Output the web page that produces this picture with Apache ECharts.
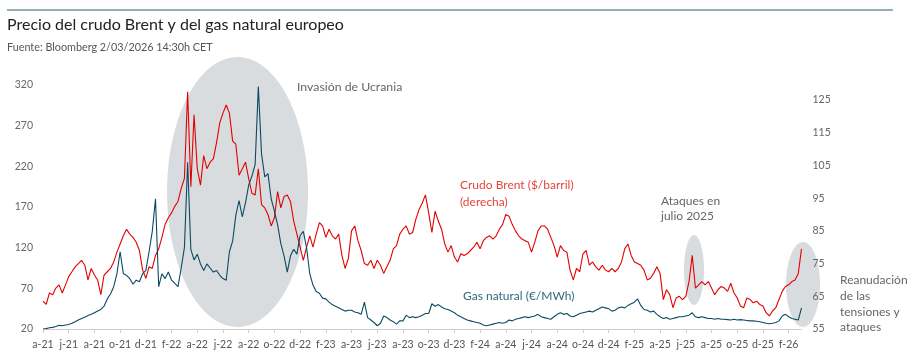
<!DOCTYPE html>
<html><head><meta charset="utf-8">
<script src="https://cdn.jsdelivr.net/npm/echarts@6/dist/echarts.min.js"></script>
<style>html,body{margin:0;padding:0;background:#fff}#c{width:920px;height:357px}</style>
</head><body><div id="c"></div>
<script>
// x-axis tick labels, one every two months starting April 2021
const tickLabels = ['a-21','j-21','a-21','o-21','d-21','f-22','a-22','j-22','a-22','o-22','d-22','f-23','a-23','j-23','a-23','o-23','d-23','f-24','a-24','j-24','a-24','o-24','d-24','f-25','a-25','j-25','a-25','o-25','d-25','f-26'];
// sampling step in months (from 1 Apr 2021)
const STEP = 0.25;
// Brent crude, $/barrel (right axis)
const brent = [
63.5,62.5,66.0,65.5, 67.5,68.5,66.0,68.5, 71.0,72.5,74.0,75.0, 76.0,74.5,70.0,73.5,
71.5,70.0,65.5,71.5, 72.5,73.5,75.5,78.5, 81.0,83.5,85.5,84.0, 83.0,81.5,79.0,73.0,
70.5,74.0,73.5,77.5, 79.5,83.0,87.0,89.0, 90.5,92.5,94.0,98.0, 101.0,127.5,98.5,120.5,
104.0,99.0,108.0,104.0, 106.0,107.0,112.0,118.0, 121.0,123.5,121.0,112.5, 111.5,102.0,104.0,106.0,
101.0,96.5,96.0,104.0, 93.0,92.0,90.0,86.5, 89.0,97.0,92.0,95.5, 96.0,94.0,88.0,84.0,
80.0,76.0,80.0,83.5, 80.0,84.0,87.5,86.5, 83.0,85.5,83.5,82.5, 84.0,77.5,73.5,76.5,
85.0,86.5,82.0,79.0, 75.0,74.5,76.0,73.5, 76.0,74.5,72.0,74.0, 76.0,79.5,80.5,84.0,
85.5,86.5,84.0,84.5, 88.5,91.5,93.5,96.0, 90.5,84.5,91.0,88.0, 85.5,81.0,78.5,80.5,
77.0,75.5,78.0,77.5, 78.0,79.0,80.0,81.5, 79.5,82.0,83.0,83.5, 82.5,83.5,85.5,87.0,
90.0,89.5,87.0,85.0, 83.5,82.5,82.0,81.5, 78.5,81.5,85.0,86.5, 86.5,85.5,83.0,80.5,
77.0,80.5,79.0,78.5, 73.0,70.0,73.5,72.5, 78.0,79.0,74.5,75.5, 74.0,73.0,74.5,73.0,
72.5,73.5,72.5,73.5, 75.5,79.5,81.0,77.5, 75.5,75.0,74.5,73.0, 70.0,70.5,72.0,74.0,
72.0,64.0,67.0,65.5, 61.5,64.5,65.0,64.0, 65.0,69.5,77.5,67.5, 68.5,69.5,68.5,69.5,
67.5,65.5,67.0,68.0, 67.5,66.5,69.0,66.0, 64.5,62.0,61.5,64.5, 64.0,63.0,63.5,62.5,
62.0,60.0,59.0,60.5, 61.5,64.0,66.5,68.0, 68.5,69.5,70.0,72.0, 79.5
];
// TTF natural gas, EUR/MWh (left axis)
const gas = [
20.0,20.5,21.5,22.0, 23.0,24.5,24.0,25.0, 25.5,27.0,29.0,31.0, 33.0,34.5,36.5,38.0,
40.0,42.0,44.0,48.0, 57.0,63.0,72.0,88.0, 115.0,88.0,86.0,82.0, 75.0,80.0,78.0,88.0,
92.0,115.0,140.0,180.0, 72.0,88.0,82.0,90.0, 80.0,76.0,72.0,95.0, 120.0,225.0,118.0,105.0,
112.0,100.0,92.0,100.0, 95.0,90.0,92.0,86.0, 82.0,80.0,115.0,128.0, 160.0,178.0,158.0,175.0,
197.0,208.0,222.0,318.0, 235.0,207.0,211.0,180.0, 165.0,148.0,125.0,110.0, 90.0,110.0,118.0,112.0,
135.0,140.0,120.0,88.0, 74.0,66.0,64.0,58.0, 57.0,53.0,50.0,48.0, 46.0,44.0,42.0,43.0,
43.0,41.0,40.0,38.0, 53.0,34.0,31.0,28.0, 24.0,27.0,36.0,34.0, 31.0,29.0,26.0,30.0,
30.0,37.0,34.0,35.0, 34.0,35.0,37.0,39.0, 39.0,51.0,48.0,50.0, 47.0,45.0,44.0,42.0,
40.0,37.0,35.0,33.0, 31.0,30.0,29.0,28.0, 27.0,25.0,24.0,25.0, 26.0,27.0,28.0,27.0,
28.0,31.0,30.0,32.0, 33.0,34.0,35.0,34.0, 35.0,36.0,38.0,35.0, 34.0,33.0,32.0,35.0,
38.0,40.0,38.0,39.0, 36.0,35.0,37.0,39.0, 40.0,41.0,42.0,41.0, 43.0,45.0,47.0,46.0,
45.0,42.0,43.0,46.0, 47.0,46.0,49.0,51.0, 53.0,57.0,49.0,44.0, 43.0,41.0,42.0,38.0,
35.0,33.0,34.0,32.0, 33.0,34.0,35.0,35.0, 36.0,37.0,40.0,35.0, 34.0,35.0,34.0,33.0,
33.0,32.0,33.0,32.0, 32.0,31.5,31.0,32.0, 31.0,31.5,31.0,30.5, 30.0,30.0,29.5,29.0,
28.0,27.0,26.5,27.0, 28.0,30.0,36.0,38.0, 35.0,33.0,32.0,31.0, 46.0
];
const leftTicks = [20,70,120,170,220,270,320];
const rightTicks = [55,65,75,85,95,105,115,125];

const FONT = 'Lato';
const chart = echarts.init(document.getElementById('c'), null, {renderer:'canvas'});
const tickVals = tickLabels.map((_, i) => i * 2);
const lastX = (brent.length - 1) * STEP;

chart.setOption({
  animation: false,
  textStyle: {fontFamily: FONT},
  grid: {left: 43, right: 118.5, top: 85, bottom: 28, containLabel: false},
  xAxis: {
    type: 'value', min: 0, max: lastX,
    axisLine: {show: true, lineStyle: {color: '#cfcfcf', width: 1}},
    axisTick: {show: true, length: 4, lineStyle: {color: '#cfcfcf'}, customValues: tickVals},
    axisLabel: {color: '#555', fontSize: 10.5, fontFamily: FONT, margin: 10, customValues: tickVals,
      formatter: v => tickLabels[Math.round(v / 2)] || ''},
    splitLine: {show: false}
  },
  yAxis: [
    {type: 'value', min: 20, max: 320, interval: 50, position: 'left',
     axisLine: {show: false}, axisTick: {show: false}, splitLine: {show: false},
     axisLabel: {color: '#666', fontSize: 10.5, fontFamily: FONT, margin: 10, customValues: leftTicks}},
    {type: 'value', min: 55, max: 55 + 244 / 3.271, interval: 10, position: 'right',
     axisLine: {show: false}, axisTick: {show: false}, splitLine: {show: false},
     axisLabel: {color: '#666', fontSize: 10.5, fontFamily: FONT, margin: 11, customValues: rightTicks}}
  ],
  series: [
    {name: 'Brent', type: 'line', yAxisIndex: 1, showSymbol: false, z: 3,
     data: brent.map((v, i) => [i * STEP, v]),
     lineStyle: {color: '#e30000', width: 1.1}, itemStyle: {color: '#e30000'}},
    {name: 'Gas', type: 'line', yAxisIndex: 0, showSymbol: false, z: 4,
     data: gas.map((v, i) => [i * STEP, v]),
     lineStyle: {color: '#0b4a62', width: 1.1}, itemStyle: {color: '#0b4a62'}}
  ],
  graphic: [
    {type: 'line', shape: {x1: 7, y1: 10, x2: 893, y2: 10}, style: {stroke: '#2b5f73', lineWidth: 1}},
    {type: 'text', x: 7, y: 25, style: {text: 'Precio del crudo Brent y del gas natural europeo', fill: '#222', fontSize: 16, fontFamily: FONT, verticalAlign: 'middle'}},
    {type: 'text', x: 7, y: 48, style: {text: 'Fuente: Bloomberg 2/03/2026 14:30h CET', fill: '#555', fontSize: 10.8, fontFamily: FONT, verticalAlign: 'middle'}},
    {type: 'ellipse', z: -10, shape: {cx: 237.5, cy: 192, rx: 70.5, ry: 135}, style: {fill: '#d9dcde'}},
    {type: 'ellipse', z: -10, shape: {cx: 694, cy: 270, rx: 10, ry: 35}, style: {fill: '#d9dcde'}},
    {type: 'ellipse', z: -10, shape: {cx: 803, cy: 284.5, rx: 17, ry: 42.5}, style: {fill: '#d9dcde'}},
    {type: 'text', x: 297, y: 87, style: {text: 'Invasión de Ucrania', fill: '#666', fontSize: 12.3, fontFamily: FONT, verticalAlign: 'middle'}},
    {type: 'text', x: 460, y: 185, style: {text: 'Crudo Brent ($/barril)', fill: '#e8453c', fontSize: 12, fontFamily: FONT, verticalAlign: 'middle'}},
    {type: 'text', x: 460, y: 202, style: {text: '(derecha)', fill: '#e8453c', fontSize: 12, fontFamily: FONT, verticalAlign: 'middle'}},
    {type: 'text', x: 463, y: 296, style: {text: 'Gas natural (€/MWh)', fill: '#2e6b80', fontSize: 12, fontFamily: FONT, verticalAlign: 'middle'}},
    {type: 'text', x: 661, y: 201, style: {text: 'Ataques en', fill: '#666', fontSize: 12, fontFamily: FONT, verticalAlign: 'middle'}},
    {type: 'text', x: 661, y: 216.5, style: {text: 'julio 2025', fill: '#666', fontSize: 12, fontFamily: FONT, verticalAlign: 'middle'}},
    {type: 'text', x: 840, y: 280, style: {text: 'Reanudación', fill: '#666', fontSize: 12, fontFamily: FONT, verticalAlign: 'middle'}},
    {type: 'text', x: 840, y: 296, style: {text: 'de las', fill: '#666', fontSize: 12, fontFamily: FONT, verticalAlign: 'middle'}},
    {type: 'text', x: 840, y: 312, style: {text: 'tensiones y', fill: '#666', fontSize: 12, fontFamily: FONT, verticalAlign: 'middle'}},
    {type: 'text', x: 840, y: 327.5, style: {text: 'ataques', fill: '#666', fontSize: 12, fontFamily: FONT, verticalAlign: 'middle'}}
  ]
});
</script>
</body></html>
